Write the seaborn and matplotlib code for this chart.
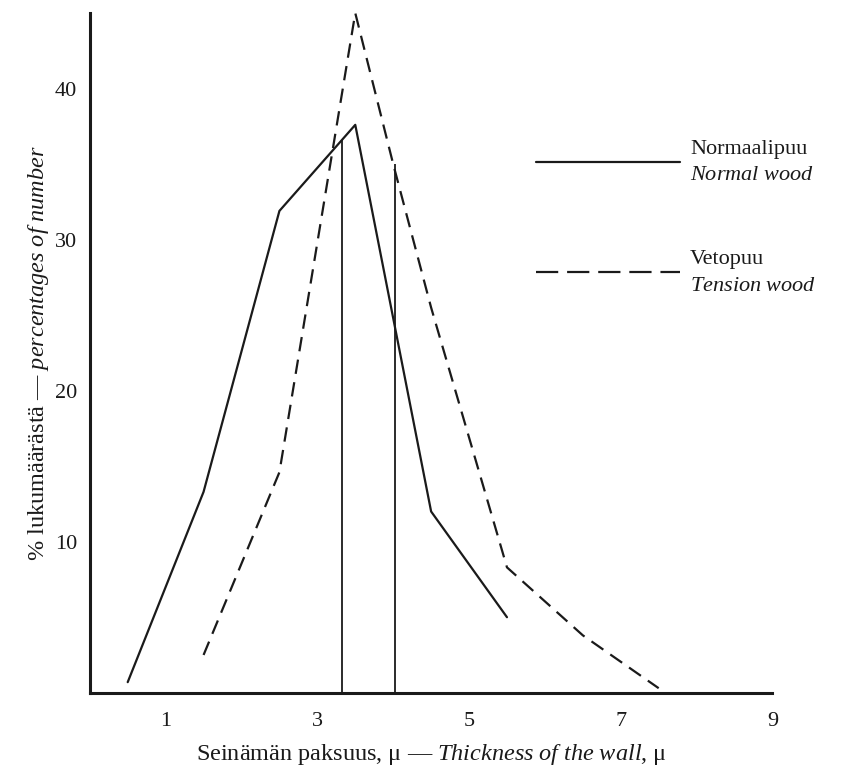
import numpy as np
import pandas as pd
import matplotlib
matplotlib.use("Agg")
import matplotlib.pyplot as plt
from matplotlib.lines import Line2D
import seaborn as sns

# wall thickness distributions
normal_x = [0.5, 1.5, 2.5, 3.5, 4.5, 5.5]
normal_y = [0.7, 13.3, 31.9, 37.6, 12.0, 5.0]
tension_x = [1.5, 2.5, 3.5, 4.0, 4.5, 5.5, 6.5, 7.5]
tension_y = [2.5, 14.6, 45.0, 35.0, 25.5, 8.3, 3.8, 0.3]

# mean markers (vertical lines up to each curve)
mean_x = [3.32, 4.03]
mean_y = [36.6, 35.0]

x_ticks = [1, 3, 5, 7, 9]
y_ticks = [10, 20, 30, 40]

sns.set_style("white")
plt.rcParams['font.family'] = ['Liberation Serif', 'DejaVu Serif']
plt.rcParams['mathtext.fontset'] = 'custom'
plt.rcParams['mathtext.rm'] = 'Liberation Serif'
plt.rcParams['mathtext.it'] = 'Liberation Serif:italic'

ink = '#1a1a1a'
fig = plt.figure(figsize=(8.47, 7.68), dpi=100)
ax = fig.add_axes([0.106, 0.098, 0.806, 0.885])

sns.lineplot(x=normal_x, y=normal_y, ax=ax, color=ink, lw=1.6)
sns.lineplot(x=tension_x, y=tension_y, ax=ax, color=ink, lw=1.6,
             linestyle=(0, (6.5, 3.8)))
ax.vlines(mean_x, 0, mean_y, color=ink, lw=1.3)

ax.set_xlim(0, 9)
ax.set_ylim(0, 45)
ax.set_xticks(x_ticks)
ax.set_yticks(y_ticks)
ax.tick_params(direction='in', length=5, width=1.6, labelsize=16, colors=ink)
ax.tick_params(axis='x', pad=14)
ax.tick_params(axis='y', pad=9)
for s in ['top', 'right']:
    ax.spines[s].set_visible(False)
for s in ['left', 'bottom']:
    ax.spines[s].set_linewidth(2.2)
    ax.spines[s].set_color(ink)

ax.set_xlabel(r"Seinämän paksuus, μ — $\mathit{Thickness\ of\ the\ wall}$, μ",
              fontsize=17.5, color=ink, labelpad=8)
ax.set_ylabel(r"% lukumäärästä — $\mathit{percentages\ of\ number}$",
              fontsize=17.5, color=ink, labelpad=3)

handles = [Line2D([], [], color=ink, lw=1.6),
           Line2D([], [], color=ink, lw=1.6, linestyle=(0, (10, 4)))]
labels = ["Normaalipuu\n$\\mathit{Normal\\ wood}$",
          "Vetopuu\n$\\mathit{Tension\\ wood}$"]
leg = ax.legend(handles, labels, loc='upper left', bbox_to_anchor=(0.637, 0.83),
                frameon=False, fontsize=16, handlelength=6.5, borderpad=0,
                handletextpad=0.45, labelspacing=2.9)
for t in leg.get_texts():
    t.set_color(ink)
    t.set_linespacing(1.55)

plt.savefig('out.png', dpi=100)
